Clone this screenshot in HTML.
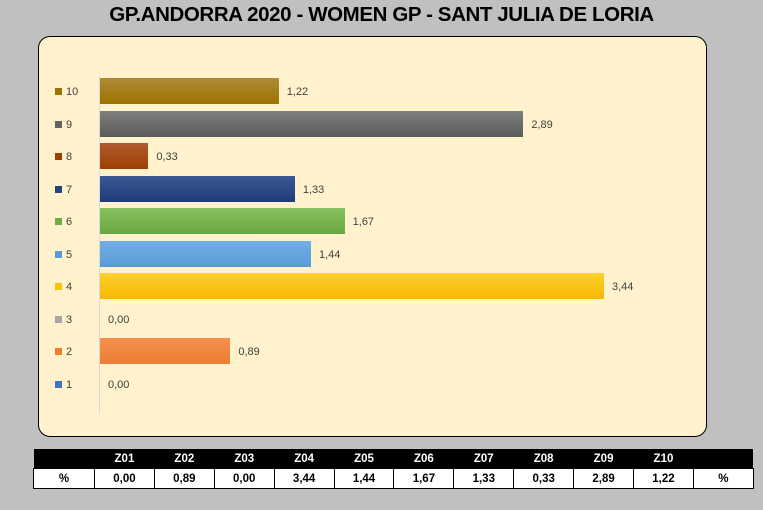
<!DOCTYPE html>
<html><head><meta charset="utf-8"><style>
body{margin:0;width:763px;height:510px;background:#c0c0c0;position:relative;overflow:hidden;font-family:"Liberation Sans",sans-serif}
.title{position:absolute;left:0;width:763px;top:3px;text-align:center;font-weight:bold;font-size:20.5px;color:#000;letter-spacing:-0.4px}
.box{position:absolute;left:38px;top:36px;width:667px;height:399px;background:#fff2cc;border:1.5px solid #000;border-radius:12px}
.axis{position:absolute;left:99px;top:76px;width:1px;height:338px;background:#d9d9d9}
.bar{position:absolute;left:100px;height:26px}
.lbl{position:absolute;font-size:11px;color:#404040}
.leg{position:absolute;left:55px;font-size:11px;color:#404040}
.leg i{display:inline-block;width:7px;height:7px;margin-right:4px;vertical-align:0px}
table{position:absolute;left:33px;top:449px;border-collapse:collapse;font-size:11.5px;font-weight:bold;width:720px;table-layout:fixed}
td{height:19px;text-align:center;padding:0}
tr.h td{background:#000;color:#fff}
tr.v td{background:#fff;color:#000;border:1px solid #000}
</style></head><body>
<div class="title">GP.ANDORRA 2020 - WOMEN GP - SANT JULIA DE LORIA</div>
<div class="box"></div>
<div class="axis"></div>
<div id="c"></div>
<script>
var d=[["10",1.22,"linear-gradient(#ad8a38,#9c7300)","#9c7300"],["9",2.89,"linear-gradient(#7f7f7f,#5a5a5a)","#636363"],["8",0.33,"linear-gradient(#b05a30,#9e3f00)","#9e3f00"],["7",1.33,"linear-gradient(#3c5a96,#1f3a78)","#264478"],["6",1.67,"linear-gradient(#86c060,#6aa840)","#70ad47"],["5",1.44,"linear-gradient(#72aee8,#5b9bd5)","#5b9bd5"],["4",3.44,"linear-gradient(#ffd030,#f5b800)","#ffc000"],["3",0,"","#a5a5a5"],["2",0.89,"linear-gradient(#f59050,#ed7d31)","#ed7d31"],["1",0,"","#4472c4"]];
var h="";d.forEach(function(r,i){var cy=91+i*32.5,w=r[1]*146.5;
if(w>0)h+='<div class="bar" style="top:'+(cy-13)+'px;width:'+w+'px;background:'+r[2]+'"></div>';
h+='<div class="lbl" style="left:'+(100+w+8)+'px;top:'+(cy-5)+'px">'+r[1].toFixed(2).replace(".",",")+'</div>';
h+='<div class="leg" style="top:'+(cy-5)+'px"><i style="background:'+r[3]+'"></i>'+r[0]+'</div>';});
document.getElementById("c").innerHTML=h;
</script>
<table>
<colgroup><col style="width:61px"><col span="11" style="width:59.9px"></colgroup>
<tr class="h"><td></td><td>Z01</td><td>Z02</td><td>Z03</td><td>Z04</td><td>Z05</td><td>Z06</td><td>Z07</td><td>Z08</td><td>Z09</td><td>Z10</td><td></td></tr>
<tr class="v"><td>%</td><td>0,00</td><td>0,89</td><td>0,00</td><td>3,44</td><td>1,44</td><td>1,67</td><td>1,33</td><td>0,33</td><td>2,89</td><td>1,22</td><td>%</td></tr>
</table>
</body></html>
